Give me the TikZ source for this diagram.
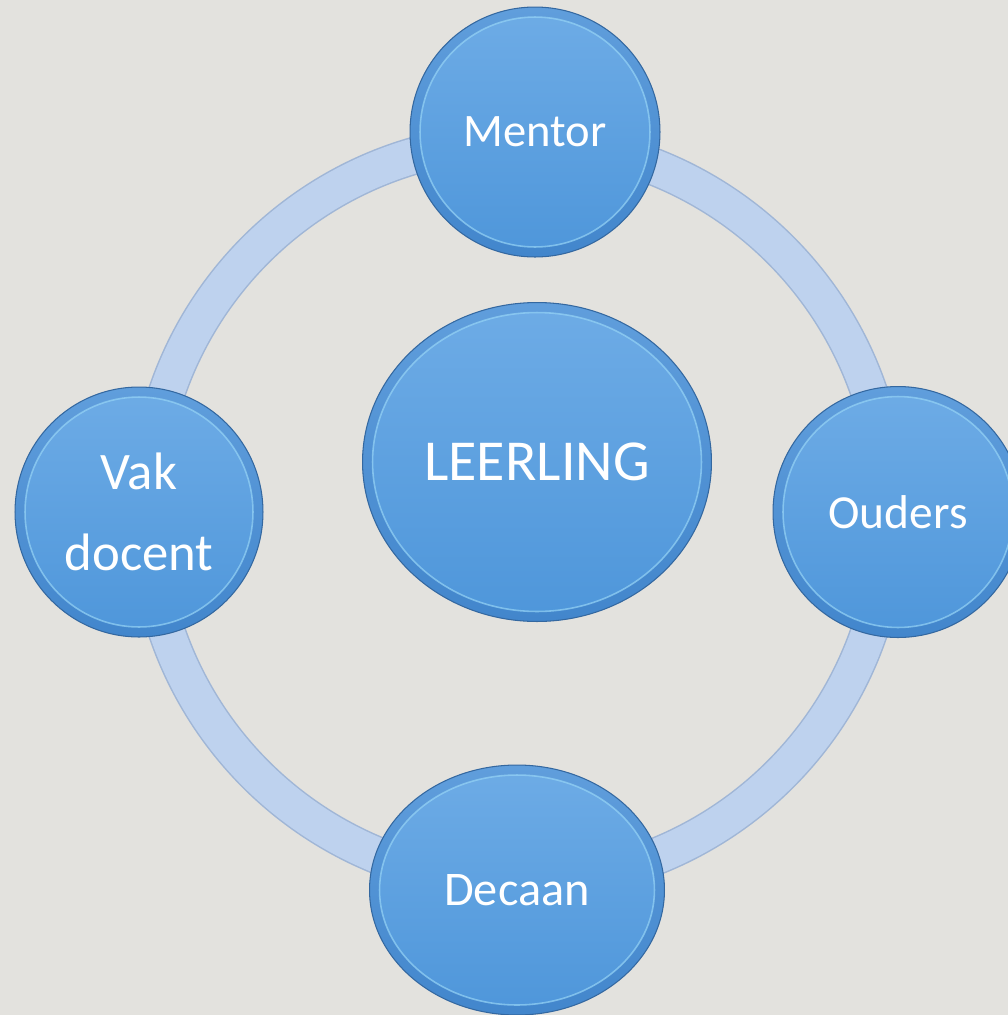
\documentclass[tikz,border=0pt]{standalone}
\usepackage{fontspec}
\setmainfont{Carlito}
\usetikzlibrary{shapes.geometric,calc}

\definecolor{paper}{RGB}{227,226,222}
\definecolor{ringfill}{RGB}{190,210,238}
\definecolor{ringedge}{RGB}{160,182,214}
\definecolor{rimtop}{RGB}{96,158,220}
\definecolor{rimbot}{RGB}{66,134,204}
\definecolor{facetop}{RGB}{110,172,230}
\definecolor{facebot}{RGB}{78,150,218}
\definecolor{gloss}{RGB}{150,212,246}
\definecolor{shade}{RGB}{52,104,160}

\begin{document}
\begin{tikzpicture}[x=0.02cm, y=-0.02cm,
  bubble/.style={ellipse, draw=shade, line width=0.6pt,
    top color=rimtop, bottom color=rimbot, text=white,
    align=center, inner sep=0pt,
    path picture={
      \path let \p1 = ($(path picture bounding box.north east)-(path picture bounding box.center)$) in
        [draw=gloss, draw opacity=0.7, line width=0.9pt, top color=facetop, bottom color=facebot]
        (path picture bounding box.center) ellipse [x radius=\x1-0.2cm, y radius=\y1-0.2cm];
    }},
  member/.style={bubble, font=\fontsize{27}{46}\selectfont}]

  % Canvas:
  \useasboundingbox (0,0) rectangle (1008,1015);
  \fill[paper] (0,0) rectangle (1008,1015);
  \clip (0,0) rectangle (1008,1015);

  % Ring:
  \coordinate (hub) at (518,512);
  \draw[line width=0.76cm, ringedge] (hub) circle [radius=7.42cm];
  \draw[line width=0.70cm, ringfill] (hub) circle [radius=7.42cm];

  % Nodes:
  \node[member, minimum width=5cm, minimum height=5cm,
    font=\fontsize{26.5}{46}\selectfont] (mentor) at (535,132) {Mentor};
  \node[member, minimum width=4.96cm, minimum height=5cm,
    font=\fontsize{30}{46}\selectfont] (vak) at (139,512) {Vak\\docent};
  \node[member, minimum width=5cm, minimum height=5.02cm] (ouders) at (898,512) {Ouders};
  \node[member, minimum width=5.9cm, minimum height=5cm,
    font=\fontsize{27.5}{46}\selectfont] (decaan) at (517,890) {Decaan};
  \node[bubble, minimum width=6.98cm, minimum height=6.38cm,
    font=\fontsize{33}{38}\selectfont] (leerling) at (537,462) {LEERLING};

\end{tikzpicture}
\end{document}
